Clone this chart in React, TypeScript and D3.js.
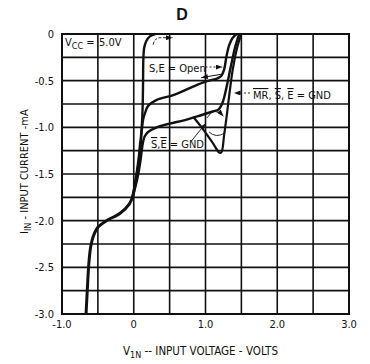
import React from 'react';
import * as d3 from 'd3';

// ---- data ----
const xTickValues = [-1, 0, 1, 2, 3];
const xTickLabels = ['-1.0', '0', '1.0', '2.0', '3.0'];
const yTickValues = [0, -0.5, -1, -1.5, -2, -2.5, -3];
const yTickLabels = ['0', '-0.5', '-1.0', '-1.5', '-2.0', '-2.5', '-3.0'];
const xGridValues = [-1, -0.5, 0, 0.5, 1, 1.5, 2, 2.5, 3];
const yGridValues = [0, -0.25, -0.5, -0.75, -1, -1.25, -1.5, -1.75, -2, -2.25, -2.5, -2.75, -3];

// common trunk of all curves (V, mA)
const trunk: [number, number][] = [
  [-0.665, -3.0], [-0.648, -2.75], [-0.625, -2.45], [-0.6, -2.28], [-0.565, -2.17],
  [-0.5, -2.07], [-0.38, -2.0], [-0.19, -1.92], [-0.06, -1.82], [-0.015, -1.74],
  [0.03, -1.56], [0.07, -1.35], [0.095, -1.15],
];
// S,E = Open (left vertical branch)
const curveOpen: [number, number][] = [
  [0.095, -1.15], [0.115, -0.95], [0.125, -0.75], [0.13, -0.5], [0.133, -0.29],
  [0.145, -0.15], [0.175, -0.075], [0.225, -0.025], [0.3, 0],
];
// MR, S, E = GND (upper branch)
const curveMR: [number, number][] = [
  [-0.015, -1.74], [0.04, -1.52], [0.085, -1.27], [0.11, -1.05], [0.13, -0.92],
  [0.16, -0.84], [0.2, -0.77], [0.32, -0.705],
  [0.55, -0.654], [0.78, -0.58], [1.0, -0.51], [1.15, -0.48], [1.22, -0.45],
  [1.26, -0.38], [1.29, -0.25], [1.33, -0.12], [1.38, -0.04], [1.44, 0],
];
// S, E = GND (lower branch)
const curveGND: [number, number][] = [
  [-0.015, -1.74], [0.05, -1.55], [0.095, -1.35], [0.12, -1.2], [0.15, -1.1],
  [0.2, -1.05], [0.32, -1.0], [0.5, -0.96],
  [0.7, -0.925], [0.9, -0.88], [1.1, -0.83], [1.18, -0.81], [1.24, -0.73],
  [1.29, -0.58], [1.35, -0.36], [1.41, -0.15], [1.47, 0],
];
// S, E = GND dip branch
const curveDip: [number, number][] = [
  [0.83, -0.89], [0.93, -0.985], [1.03, -1.09], [1.12, -1.19], [1.19, -1.27],
  [1.22, -1.27], [1.26, -1.08], [1.3, -0.85], [1.34, -0.6], [1.38, -0.38],
  [1.44, -0.15], [1.5, 0],
];

const FONT = "'DejaVu Sans Condensed','Liberation Sans Narrow','DejaVu Sans',sans-serif";

export default function App() {
  const W = 370, H = 364;
  const x = d3.scaleLinear().domain([-1, 3]).range([62, 349]);
  const y = d3.scaleLinear().domain([0, -3]).range([34, 314]);
  const line = d3.line<[number, number]>()
    .x(d => x(d[0])).y(d => y(d[1]))
    .curve(d3.curveCatmullRom.alpha(0.5));

  const ink = '#111';
  const p = (v: number, i: number) => `${x(v)},${y(i)}`;

  return (
    <svg width={W} height={H} style={{ position: 'absolute', left: 0, top: 0, background: '#fff' }}
      fontFamily={FONT}>
      <defs>
        <marker id="ah" viewBox="0 0 8 6" refX="8" refY="3" markerWidth="7" markerHeight="5"
          orient="auto" markerUnits="userSpaceOnUse">
          <path d="M0,0 L8,3 L0,6 z" fill={ink} />
        </marker>
      </defs>
      <rect x={0} y={0} width={W} height={H} fill="#fff" />
      {/* title */}
      <text x={182} y={20} textAnchor="middle" fontFamily="'Liberation Sans',Arial,sans-serif"
        fontWeight="bold" fontSize={16} fill={ink}>D</text>

      {/* grid */}
      {xGridValues.map(v => (
        <line key={'gx' + v} x1={x(v)} x2={x(v)} y1={y(0)} y2={y(-3)} stroke={ink} strokeWidth={1.6} />
      ))}
      {yGridValues.map(v => (
        <line key={'gy' + v} x1={x(-1)} x2={x(3)} y1={y(v)} y2={y(v)} stroke={ink} strokeWidth={1.6} />
      ))}
      <rect x={x(-1)} y={y(0)} width={x(3) - x(-1)} height={y(-3) - y(0)} fill="none" stroke={ink} strokeWidth={2} />

      {/* tick labels */}
      {yTickValues.map((v, k) => (
        <text key={'yt' + v} x={54} y={y(v) + 4} textAnchor="end" fontSize={11} fill={ink}>{yTickLabels[k]}</text>
      ))}
      {xTickValues.map((v, k) => (
        <text key={'xt' + v} x={x(v)} y={328} textAnchor="middle" fontSize={11} fill={ink}>{xTickLabels[k]}</text>
      ))}

      {/* axis titles */}
      <text x={123} y={355} fontSize={11.5} fill={ink}>
        V<tspan dy={3} fontSize={9}>1N</tspan><tspan dy={-3}> -- INPUT VOLTAGE - VOLTS</tspan>
      </text>
      <text transform="translate(28,234) rotate(-90)" fontSize={11} fill={ink}>
        I<tspan dy={3} fontSize={9}>IN</tspan><tspan dy={-3}> - INPUT CURRENT -mA</tspan>
      </text>

      {/* curves */}
      <path d={line(curveOpen) || ''} fill="none" stroke={ink} strokeWidth={2.4} />
      <path d={line(curveMR) || ''} fill="none" stroke={ink} strokeWidth={2.4} />
      <path d={line(curveGND) || ''} fill="none" stroke={ink} strokeWidth={2.4} />
      <path d={line(curveDip) || ''} fill="none" stroke={ink} strokeWidth={2.2} />
      <path d={line(trunk) || ''} fill="none" stroke={ink} strokeWidth={3} />

      {/* annotations */}
      <text x={65} y={46} fontSize={11} fill={ink}>
        V<tspan dy={3} fontSize={9}>CC</tspan><tspan dy={-3}> =</tspan>
      </text>
      <text x={99} y={46} fontSize={11} fill={ink}>5.0V</text>

      <text x={149} y={72} fontSize={11} fill={ink}>S,E = Open</text>
      <line x1={x(1.0)} y1={y(-0.354)} x2={x(1.235)} y2={y(-0.354)} stroke={ink} strokeWidth={0.9}
        strokeDasharray="2,2" markerEnd="url(#ah)" />
      <path d={`M${p(0.27, -0.115)} Q${p(0.29, -0.04)} ${p(0.37, -0.04)} L${p(0.54, -0.04)}`}
        fill="none" stroke={ink} strokeWidth={0.9} strokeDasharray="3,1.5" markerEnd="url(#ah)" />
      <line x1={x(1.23)} y1={y(-0.43)} x2={x(0.94)} y2={y(-0.468)} stroke={ink} strokeWidth={1}
        markerEnd="url(#ah)" />

      <text x={253} y={99} fontSize={11} fill={ink}>
        <tspan style={{ textDecoration: 'overline' }}>MR</tspan>, <tspan style={{ textDecoration: 'overline' }}>S</tspan>, <tspan style={{ textDecoration: 'overline' }}>E</tspan> = GND
      </text>
      <line x1={x(1.62)} y1={y(-0.632)} x2={x(1.395)} y2={y(-0.632)} stroke={ink} strokeWidth={0.9}
        strokeDasharray="2,2" markerEnd="url(#ah)" />

      <text x={151} y={148} fontSize={11} fill={ink}>
        <tspan style={{ textDecoration: 'overline' }}>S</tspan>,<tspan style={{ textDecoration: 'overline' }}>E</tspan> = GND
      </text>
      <line x1={x(0.8)} y1={y(-1.15)} x2={x(1.0)} y2={y(-0.96)} stroke={ink} strokeWidth={0.9}
        markerEnd="url(#ah)" />
      <path d={`M${p(1.02, -0.9)} Q${p(1.12, -0.77)} ${p(1.25, -0.88)}`} fill="none" stroke={ink}
        strokeWidth={0.9} markerEnd="url(#ah)" />
      <path d={`M${p(1.05, -1.05)} Q${p(1.15, -1.12)} ${p(1.27, -1.06)}`} fill="none" stroke={ink}
        strokeWidth={0.9} />
    </svg>
  );
}
